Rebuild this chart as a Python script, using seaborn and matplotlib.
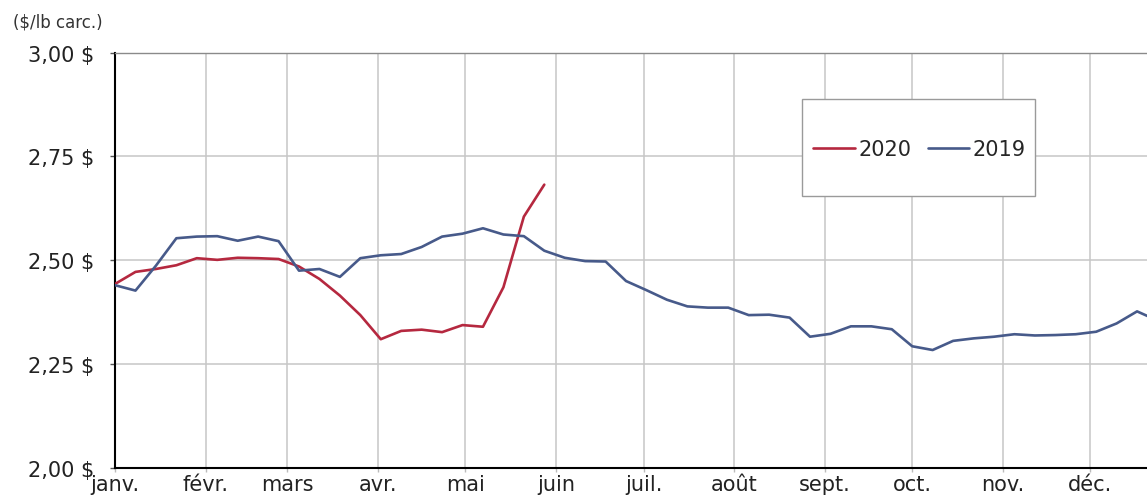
import matplotlib
matplotlib.use("Agg")
import matplotlib.pyplot as plt
from matplotlib.patches import Rectangle
import pandas as pd
import seaborn as sns

# --- données : prix hebdomadaires ($/lb carcasse), semaine 0 = 1er janvier ---
semaines_2019 = list(range(52))
prix_2019 = [
    2.440, 2.427, 2.487, 2.553, 2.557, 2.558, 2.547, 2.557, 2.546, 2.475,
    2.479, 2.460, 2.505, 2.512, 2.515, 2.532, 2.557, 2.564, 2.577, 2.562,
    2.558, 2.523, 2.506, 2.498, 2.497, 2.450, 2.428, 2.405, 2.389, 2.386,
    2.386, 2.368, 2.369, 2.362, 2.316, 2.323, 2.341, 2.341, 2.334, 2.293,
    2.284, 2.306, 2.312, 2.316, 2.322, 2.319, 2.320, 2.322, 2.328, 2.348,
    2.377, 2.355,
]
semaines_2020 = list(range(22))
prix_2020 = [
    2.443, 2.472, 2.479, 2.488, 2.505, 2.501, 2.506, 2.505, 2.503, 2.485,
    2.455, 2.415, 2.368, 2.310, 2.330, 2.333, 2.327, 2.344, 2.340, 2.435,
    2.605, 2.682,
]

mois = ["janv.", "févr.", "mars", "avr.", "mai", "juin",
        "juil.", "août", "sept.", "oct.", "nov.", "déc."]
debut_mois = [0, 31, 59, 90, 120, 151, 181, 212, 243, 273, 304, 334]
y_ticks = [2.00, 2.25, 2.50, 2.75, 3.00]
y_labels = ["2,00 $", "2,25 $", "2,50 $", "2,75 $", "3,00 $"]

couleurs = {"2020": "#b5283f", "2019": "#475a8a"}

df = pd.concat([
    pd.DataFrame({"jour": [7 * s for s in semaines_2020], "prix": prix_2020, "annee": "2020"}),
    pd.DataFrame({"jour": [7 * s for s in semaines_2019], "prix": prix_2019, "annee": "2019"}),
])

sns.set_style("white")
plt.rcParams["font.family"] = ["DejaVu Sans"]

fig = plt.figure(figsize=(11.47, 5.02), dpi=100)
ax = fig.add_axes([0.1003, 0.0657, 0.8997, 0.8277])

sns.lineplot(data=df, x="jour", y="prix", hue="annee", hue_order=["2020", "2019"],
             palette=couleurs, linewidth=1.9, ax=ax, zorder=3)

ax.set_xlim(0, 353.4)
ax.set_ylim(2.0, 3.0)
ax.set_xticks(debut_mois)
ax.set_xticklabels(mois)
ax.set_yticks(y_ticks)
ax.set_yticklabels(y_labels)
ax.set_xlabel("")
ax.set_ylabel("")

ax.set_axisbelow(True)
ax.grid(True, color="#c6c6c6", linewidth=1.1)

for side in ["left", "bottom"]:
    ax.spines[side].set_color("black")
    ax.spines[side].set_linewidth(1.5)
ax.spines["top"].set_color("#8a8a8a")
ax.spines["top"].set_linewidth(1.0)
ax.spines["right"].set_visible(False)

ax.tick_params(axis="y", left=True, length=3.6, width=1, color="#555555",
               pad=11.5, labelsize=15, labelcolor="#222222")
ax.tick_params(axis="x", bottom=True, length=3, width=1, color="#bbbbbb",
               pad=1.5, labelsize=15, labelcolor="#222222")

# légende horizontale dans un cadre gris
handles, labels = ax.get_legend_handles_labels()
ax.get_legend().remove()
ax.add_patch(Rectangle((0.6657, 0.6546), 0.2258, 0.2335, transform=ax.transAxes,
                       facecolor="white", edgecolor="#9a9a9a", linewidth=1, zorder=4))
leg = ax.legend(handles, labels, loc="center", bbox_to_anchor=(0.7795, 0.7678),
                ncol=2, frameon=False, fontsize=15, handlelength=2.0,
                handletextpad=0.15, columnspacing=0.8)
leg.set_zorder(5)

fig.text(13 / 1147, 1 - 23 / 502, "($/lb carc.)", fontsize=12, color="#333333",
         ha="left", va="center")

fig.savefig("out.png", dpi=100)
